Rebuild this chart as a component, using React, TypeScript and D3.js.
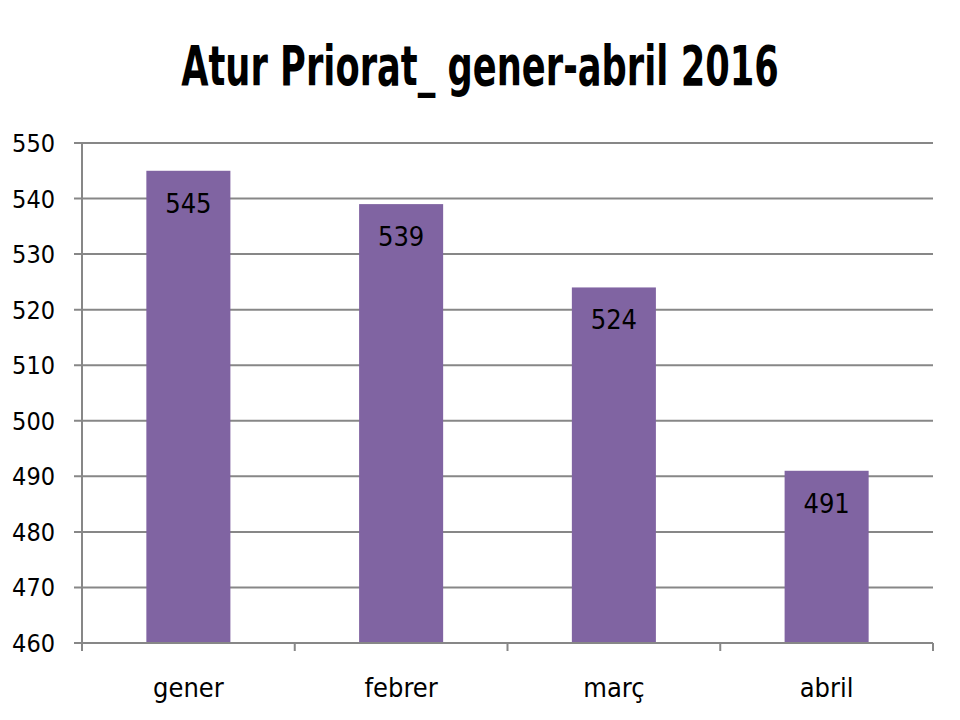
import * as d3 from "d3"

const months = ["gener", "febrer", "març", "abril"]
const atur = [545, 539, 524, 491]
const yTicks = [460, 470, 480, 490, 500, 510, 520, 530, 540, 550]
const title = "Atur Priorat_ gener-abril 2016"

const font = "'Liberation Sans Narrow', 'DejaVu Sans Condensed', 'Open Sans', sans-serif"

export default function App() {
  const width = 960
  const height = 720
  const margin = { top: 143, right: 27, bottom: 77, left: 82 }
  const chartWidth = width - margin.left - margin.right
  const chartHeight = height - margin.top - margin.bottom

  const x = d3.scaleBand().domain(months).range([0, chartWidth]).paddingInner(0.605).paddingOuter(0.3025)
  const y = d3.scaleLinear().domain([460, 550]).range([chartHeight, 0])
  const grid = "#878787"
  const bandEdges = d3.range(months.length + 1).map((i) => (chartWidth / months.length) * i)

  return (
    <svg
      width={width}
      height={height}
      style={{ position: "absolute", left: 0, top: 0, background: "#fff" }}
      fontFamily={font}
    >
      {/* title: condensed bold, narrowed to the reference width */}
      <g transform={`translate(${width / 2}, 85) scale(0.7, 1)`}>
        <text
          x={0}
          y={0}
          textAnchor="middle"
          fontSize={56}
          fontWeight="bold"
          style={{ fontStretch: "condensed" }}
          fontFamily="'DejaVu Sans Condensed', 'DejaVu Sans', sans-serif"
          fill="#000"
        >
          {title}
        </text>
      </g>
      <g transform={`translate(${margin.left}, ${margin.top})`}>
        {/* grid lines */}
        {yTicks.map((t) => (
          <g key={t}>
            <line x1={-8} x2={chartWidth} y1={y(t)} y2={y(t)} stroke={grid} strokeWidth={2} />
            <text x={-27} y={y(t) + 9} textAnchor="end" fontSize={25} fill="#000">
              {t}
            </text>
          </g>
        ))}
        <line x1={0} x2={0} y1={0} y2={chartHeight} stroke={grid} strokeWidth={2} />
        {bandEdges.map((e, i) => (
          <line key={i} x1={e} x2={e} y1={chartHeight} y2={chartHeight + 8} stroke={grid} strokeWidth={2} />
        ))}
        {/* bars */}
        {months.map((m, i) => (
          <g key={m}>
            <rect
              x={x(m)}
              y={y(atur[i])}
              width={x.bandwidth()}
              height={chartHeight - y(atur[i])}
              fill="#8064A2"
            />
            <text
              x={(x(m) ?? 0) + x.bandwidth() / 2}
              y={y(atur[i]) + 42}
              textAnchor="middle"
              fontSize={27}
              fill="#000"
            >
              {atur[i]}
            </text>
            <text
              x={(x(m) ?? 0) + x.bandwidth() / 2}
              y={chartHeight + 54}
              textAnchor="middle"
              fontSize={27}
              fill="#000"
            >
              {m}
            </text>
          </g>
        ))}
        <line x1={0} x2={chartWidth} y1={chartHeight} y2={chartHeight} stroke={grid} strokeWidth={2} />
      </g>
    </svg>
  )
}
